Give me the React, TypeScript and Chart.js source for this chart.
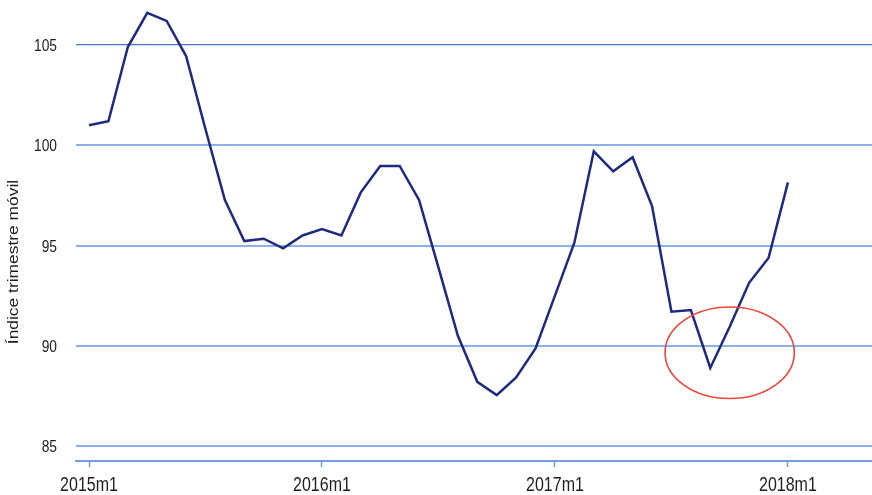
import React, { useEffect, useRef } from "react";
import { Chart, registerables } from "chart.js";

Chart.register(...registerables);

const PERIODS: string[] = [
  "2015m1", "2015m2", "2015m3", "2015m4", "2015m5", "2015m6",
  "2015m7", "2015m8", "2015m9", "2015m10", "2015m11", "2015m12",
  "2016m1", "2016m2", "2016m3", "2016m4", "2016m5", "2016m6",
  "2016m7", "2016m8", "2016m9", "2016m10", "2016m11", "2016m12",
  "2017m1", "2017m2", "2017m3", "2017m4", "2017m5", "2017m6",
  "2017m7", "2017m8", "2017m9", "2017m10", "2017m11", "2017m12",
  "2018m1",
];

const INDEX_VALUES: number[] = [
  101.0, 101.2, 104.9, 106.6, 106.2, 104.45, 100.8, 97.27, 95.22, 95.34, 94.86, 95.5,
  95.82, 95.5, 97.65, 98.97, 98.97, 97.27, 93.9, 90.5, 88.2, 87.54, 88.42, 89.87,
  92.5, 95.14, 99.7, 98.7, 99.4, 96.97, 91.7, 91.78, 88.89, 90.95, 93.14, 94.38,
  98.15,
];

const X_TICK_LABELS: string[] = ["2015m1", "2016m1", "2017m1", "2018m1"];
const Y_TICKS: number[] = [85, 90, 95, 100, 105];

const Y_TITLE = "Índice trimestre móvil";

// highlighted region (ellipse) in data units
const HIGHLIGHT_CENTER_PERIOD = "2017m10";
const HIGHLIGHT_CENTER_VALUE = 89.65;
const HIGHLIGHT_HALF_MONTHS = 3.33;
const HIGHLIGHT_HALF_UNITS = 2.28;

const FONT = "'Liberation Sans', Arial, sans-serif";
const TEXT_COLOR = "#1e1e1e";
const V_STRETCH = 1.22;

const ellipsePlugin = {
  id: "highlightEllipse",
  afterDatasetsDraw(chart: any) {
    const { ctx, scales } = chart;
    const xs = scales.x;
    const ys = scales.y;
    const ci = PERIODS.indexOf(HIGHLIGHT_CENTER_PERIOD);
    const cx = xs.getPixelForValue(ci);
    const cy = ys.getPixelForValue(HIGHLIGHT_CENTER_VALUE);
    const rx = Math.abs(xs.getPixelForValue(ci + HIGHLIGHT_HALF_MONTHS) - cx);
    const ry = Math.abs(ys.getPixelForValue(HIGHLIGHT_CENTER_VALUE + HIGHLIGHT_HALF_UNITS) - cy);
    ctx.save();
    ctx.beginPath();
    ctx.ellipse(cx, cy, rx, ry, 0, 0, Math.PI * 2);
    ctx.strokeStyle = "#ee4538";
    ctx.lineWidth = 1.6;
    ctx.stroke();
    ctx.restore();
  },
};

// draws tick labels and the y title with the tall, stretched lettering of the original
const textPlugin = {
  id: "stretchedText",
  afterDraw(chart: any) {
    const { ctx, scales } = chart;
    const xs = scales.x;
    const ys = scales.y;
    ctx.save();
    ctx.fillStyle = TEXT_COLOR;

    // x tick labels
    ctx.font = `16px ${FONT}`;
    ctx.textAlign = "center";
    ctx.textBaseline = "alphabetic";
    X_TICK_LABELS.forEach((l) => {
      const px = xs.getPixelForValue(PERIODS.indexOf(l));
      ctx.save();
      ctx.translate(px, xs.top + 30);
      ctx.scale(1, V_STRETCH);
      ctx.fillText(l, 0, 0);
      ctx.restore();
    });

    // y tick labels
    ctx.font = `13.8px ${FONT}`;
    ctx.textAlign = "right";
    Y_TICKS.forEach((v) => {
      const py = ys.getPixelForValue(v);
      ctx.save();
      ctx.translate(ys.right - 19, py + 6);
      ctx.scale(1, V_STRETCH);
      ctx.fillText(String(v), 0, 0);
      ctx.restore();
    });

    // y title
    ctx.save();
    ctx.translate(17.5, 262);
    ctx.rotate(-Math.PI / 2);
    ctx.scale(1.2, 1);
    ctx.font = `14.5px ${FONT}`;
    ctx.textAlign = "center";
    ctx.textBaseline = "alphabetic";
    ctx.fillText(Y_TITLE, 0, 0);
    ctx.restore();

    ctx.restore();
  },
};

export default function App() {
  const canvasRef = useRef<HTMLCanvasElement | null>(null);

  useEffect(() => {
    document.body.style.margin = "0";
    const canvas = canvasRef.current;
    if (!canvas) return;
    const chart = new Chart(canvas, {
      type: "line",
      data: {
        datasets: [
          {
            data: INDEX_VALUES.map((v, i) => ({ x: i, y: v })),
            borderColor: "#1f2a7e",
            borderWidth: 2.5,
            pointRadius: 0,
            tension: 0,
            fill: false,
          },
        ],
      },
      options: {
        animation: false,
        responsive: false,
        devicePixelRatio: 1,
        layout: { padding: 0 },
        plugins: {
          legend: { display: false },
          tooltip: { enabled: false },
        },
        scales: {
          x: {
            type: "linear",
            min: -0.67,
            max: 40.33,
            afterBuildTicks: (scale: any) => {
              scale.ticks = X_TICK_LABELS.map((l) => ({ value: PERIODS.indexOf(l) }));
            },
            afterFit: (scale: any) => {
              scale.height = 34;
              scale.paddingLeft = 0;
              scale.paddingRight = 0;
            },
            ticks: { display: false, autoSkip: false, maxRotation: 0 },
            grid: {
              drawOnChartArea: false,
              drawTicks: true,
              tickLength: 6,
              tickWidth: 1.5,
              tickColor: "#6f9fe0",
            },
            border: { display: true, color: "#6f9fe0", width: 2 },
          },
          y: {
            type: "linear",
            min: 84.252,
            max: 107.245,
            afterBuildTicks: (scale: any) => {
              scale.ticks = Y_TICKS.map((v) => ({ value: v }));
            },
            afterFit: (scale: any) => {
              scale.width = 76;
              scale.paddingTop = 0;
              scale.paddingBottom = 0;
            },
            ticks: { display: false },
            grid: {
              drawTicks: false,
              color: (c: any) => (c.tick && c.tick.value === 105 ? "#4677c8" : "#8ab2e6"),
              lineWidth: (c: any) => (c.tick && c.tick.value === 105 ? 1.2 : 2),
            },
            border: { display: false },
          },
        },
      },
      plugins: [ellipsePlugin, textPlugin],
    });
    return () => chart.destroy();
  }, []);

  return (
    <div style={{ position: "absolute", left: 0, top: 0, width: 872, height: 495, background: "#ffffff" }}>
      <canvas ref={canvasRef} width={872} height={495} style={{ width: 872, height: 495, display: "block" }} />
    </div>
  );
}
